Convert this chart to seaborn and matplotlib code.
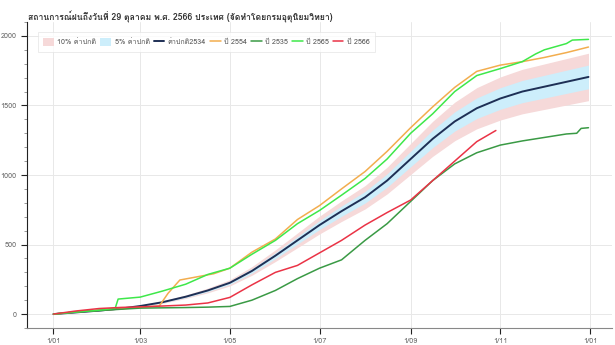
import datetime as dt
import numpy as np
import pandas as pd
import matplotlib
matplotlib.use("Agg")
import matplotlib.pyplot as plt
import matplotlib.dates as mdates
from matplotlib.ticker import MultipleLocator, FuncFormatter
from matplotlib import font_manager as fm
from matplotlib.ft2font import FT2Font
import seaborn as sns

# ---------------- data ----------------
title = "สถานการณ์ฝนถึงวันที่ 29 ตุลาคม พ.ศ. 2566 ประเทศ (จัดทำโดยกรมอุตุนิยมวิทยา)"
labels = ["10% ค่าปกติ", "5% ค่าปกติ", "ค่าปกติ2534", "ปี 2554", "ปี 2535", "ปี 2565", "ปี 2566"]

normal_dates = ["01-01", "01-16", "02-01", "02-16", "03-01", "03-16", "04-01", "04-16", "05-01",
                "05-16", "06-01", "06-16", "07-01", "07-16", "08-01", "08-16", "09-01", "09-16",
                "10-01", "10-16", "11-01", "11-16", "12-01", "12-16", "12-31"]
normal_vals = [0, 12, 25, 40, 58, 85, 125, 170, 225, 310, 420, 530, 640, 740, 840, 960, 1115,
               1260, 1385, 1480, 1550, 1600, 1635, 1670, 1705]

y2554_dates = ["01-01", "01-16", "02-01", "02-16", "03-01", "03-14", "03-20", "03-28", "04-20",
               "05-01", "05-16", "06-01", "06-16", "07-01", "07-16", "08-01", "08-16", "09-01",
               "09-16", "10-01", "10-16", "11-01", "11-16", "12-01", "12-16", "12-31"]
y2554_vals = [0, 15, 28, 38, 48, 58, 150, 245, 290, 330, 445, 540, 680, 780, 900, 1025, 1170,
              1340, 1490, 1630, 1745, 1790, 1815, 1845, 1880, 1920]

y2535_dates = ["01-01", "01-16", "02-01", "02-16", "03-01", "03-16", "04-01", "04-16", "05-01",
               "05-16", "06-01", "06-16", "07-01", "07-16", "08-01", "08-16", "09-01", "09-16",
               "10-01", "10-16", "11-01", "11-16", "12-01", "12-16", "12-23", "12-26", "12-31"]
y2535_vals = [0, 15, 25, 35, 43, 45, 47, 50, 55, 100, 170, 255, 330, 390, 530, 650, 810, 960,
              1080, 1160, 1215, 1245, 1270, 1295, 1300, 1335, 1340]

y2565_dates = ["01-01", "01-16", "02-01", "02-12", "02-14", "03-01", "03-16", "04-01", "04-16",
               "05-01", "05-16", "06-01", "06-16", "07-01", "07-16", "08-01", "08-16", "09-01",
               "09-16", "10-01", "10-16", "11-01", "11-16", "11-25", "12-01", "12-16", "12-20",
               "12-31"]
y2565_vals = [0, 15, 28, 42, 108, 122, 165, 215, 285, 330, 430, 530, 650, 745, 855, 975, 1115,
              1300, 1440, 1600, 1715, 1765, 1815, 1870, 1900, 1945, 1970, 1975]

y2566_dates = ["01-01", "01-16", "02-01", "02-16", "03-01", "03-16", "04-01", "04-16", "05-01",
               "05-16", "06-01", "06-16", "07-01", "07-16", "08-01", "08-16", "09-01", "09-16",
               "10-01", "10-16", "10-29"]
y2566_vals = [0, 22, 40, 48, 52, 58, 65, 80, 120, 210, 300, 350, 440, 530, 640, 730, 820, 960,
              1100, 1240, 1320]

x_ticks = ["2023-01-01", "2023-03-01", "2023-05-01", "2023-07-01", "2023-09-01",
           "2023-11-01", "2024-01-01"]

# ---------------- fonts ----------------
thai_font = None
for f in fm.fontManager.ttflist:
    try:
        if 0x0E01 in FT2Font(f.fname).get_charmap():
            thai_font = f.name
            break
    except Exception:
        pass

sns.set_theme(style="white")
families = ([thai_font] if thai_font else []) + ["DejaVu Sans"]
plt.rcParams["font.family"] = families


def to_dt(ds):
    return pd.to_datetime(["2023-" + d for d in ds])


colors = {
    "band10": "#f6d9d9",
    "band5": "#cdeefb",
    "normal": "#1e2f55",
    "2554": "#f2ad4e",
    "2535": "#3a9a45",
    "2565": "#3ee84a",
    "2566": "#ea3346",
}

fig = plt.figure(figsize=(6.15, 3.45), dpi=100)
ax = fig.add_axes([27 / 615, 1 - 328 / 345, 585 / 615, 306 / 345])

nd = to_dt(normal_dates)
nv = np.array(normal_vals, dtype=float)
ax.fill_between(nd, nv * 0.90, nv * 1.10, color=colors["band10"], lw=0, label=labels[0])
ax.fill_between(nd, nv * 0.95, nv * 1.05, color=colors["band5"], lw=0, label=labels[1])

series = [
    (normal_dates, normal_vals, labels[2], colors["normal"], 1.4),
    (y2554_dates, y2554_vals, labels[3], colors["2554"], 1.1),
    (y2535_dates, y2535_vals, labels[4], colors["2535"], 1.1),
    (y2565_dates, y2565_vals, labels[5], colors["2565"], 1.1),
    (y2566_dates, y2566_vals, labels[6], colors["2566"], 1.1),
]
for ds, vs, lab, col, lw in series:
    df = pd.DataFrame({"date": to_dt(ds), "rain": vs})
    sns.lineplot(data=df, x="date", y="rain", ax=ax, color=col, lw=lw, label=lab)

ax.set_xlim(pd.Timestamp("2022-12-14"), pd.Timestamp("2024-01-16"))
ax.set_ylim(-100, 2100)
ax.set_xlabel("")
ax.set_ylabel("")

ax.set_xticks(pd.to_datetime(x_ticks))
ax.xaxis.set_major_formatter(FuncFormatter(
    lambda v, p: f"{mdates.num2date(v).day}/{mdates.num2date(v).month:02d}"))
ax.yaxis.set_major_locator(MultipleLocator(500))
ax.yaxis.set_minor_locator(MultipleLocator(100))

ax.grid(True, which="major", color="#e8e8e8", lw=0.7)
ax.set_axisbelow(True)
for s in ["top", "right"]:
    ax.spines[s].set_visible(False)
ax.spines["left"].set_color("#222222")
ax.spines["bottom"].set_color("#888888")
ax.spines["left"].set_linewidth(0.8)
ax.spines["bottom"].set_linewidth(0.8)
ax.tick_params(axis="both", which="major", length=4, width=0.8, labelsize=5.3,
               labelcolor="#666666", color="#222222", direction="out", left=True, bottom=True)
ax.tick_params(axis="y", which="minor", length=2, width=0.6, color="#888888", left=True)

h, l = ax.get_legend_handles_labels()
order = [l.index(x) for x in labels]
leg = ax.legend([h[i] for i in order], [l[i] for i in order], loc="upper left",
                bbox_to_anchor=(0.012, 0.978), ncol=7, fontsize=5.2, frameon=True,
                fancybox=False, edgecolor="#e3e3e3", handlelength=1.5, handleheight=1.3,
                columnspacing=0.55, handletextpad=0.45, borderpad=0.8)
for t in leg.get_texts():
    t.set_color("#555555")
leg.get_frame().set_linewidth(0.6)

fig.text(28 / 615, 1 - 17 / 345, title, fontsize=6.2, fontweight="bold", color="#333333",
         va="center", ha="left")

fig.savefig("out.png", dpi=100)
